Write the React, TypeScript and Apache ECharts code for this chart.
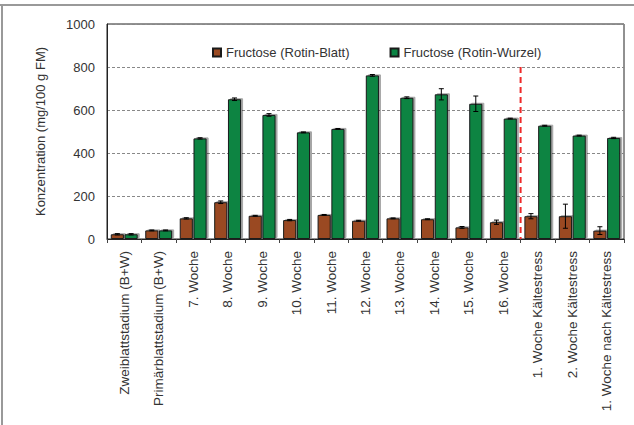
import React, { useEffect, useRef } from "react";
import * as echarts from "echarts";

const categories = [
  "Zweiblattstadium (B+W)",
  "Primärblattstadium (B+W)",
  "7. Woche",
  "8. Woche",
  "9. Woche",
  "10. Woche",
  "11. Woche",
  "12. Woche",
  "13. Woche",
  "14. Woche",
  "15. Woche",
  "16. Woche",
  "1. Woche Kältestress",
  "2. Woche Kältestress",
  "1. Woche nach Kältestress",
];
const blattValues = [22, 40, 96, 171, 108, 88, 112, 85, 96, 92, 54, 78, 106, 106, 39];
const blattErrors = [3, 2, 3, 6, 2, 3, 2, 2, 2, 2, 4, 10, 12, 56, 18];
const wurzelValues = [22, 40, 468, 650, 577, 496, 512, 761, 657, 673, 629, 560, 527, 481, 470];
const wurzelErrors = [3, 2, 3, 6, 6, 2, 2, 4, 4, 26, 36, 2, 2, 2, 3];
const yTicks = { min: 0, max: 1000, interval: 200 };
const seriesNames = ["Fructose (Rotin-Blatt)", "Fructose (Rotin-Wurzel)"];
const separatorAfterIndex = 11;
const separatorTop = 800;

const CAT_GAP = 0.22;
const BAR_GAP = 0.05;

function makeErrorSeries(values: number[], errors: number[], side: number) {
  return {
    type: "custom",
    z: 10,
    silent: true,
    data: values.map((v, i) => [i, v, errors[i]]),
    renderItem: (params: any, api: any) => {
      const idx = api.value(0);
      const v = api.value(1);
      const e = api.value(2);
      const band = api.size([1, 0])[0];
      const bw = (band * (1 - CAT_GAP)) / (2 + BAR_GAP);
      const off = side * (bw / 2 + (bw * BAR_GAP) / 2);
      const hi = api.coord([idx, v + e]);
      const lo = api.coord([idx, v - e]);
      const x = hi[0] + off;
      const cap = 2.5;
      const st = { stroke: "#000", lineWidth: 1 };
      return {
        type: "group",
        children: [
          { type: "line", shape: { x1: x, y1: hi[1], x2: x, y2: lo[1] }, style: st },
          { type: "line", shape: { x1: x - cap, y1: hi[1], x2: x + cap, y2: hi[1] }, style: st },
          { type: "line", shape: { x1: x - cap, y1: lo[1], x2: x + cap, y2: lo[1] }, style: st },
        ],
      };
    },
  };
}

export default function App() {
  const ref = useRef<HTMLDivElement>(null);
  useEffect(() => {
    if (!ref.current) return;
    const chart = echarts.init(ref.current, undefined, { renderer: "svg" });
    const font = "'Liberation Sans', Arial, sans-serif";
    const barStyle = (color: string) => ({
      color,
      borderColor: "#1a1a1a",
      borderWidth: 1,
      shadowColor: "rgba(0,0,0,0.35)",
      shadowOffsetX: 2,
      shadowOffsetY: -1,
      shadowBlur: 1,
    });
    chart.setOption({
      animation: false,
      textStyle: { fontFamily: font },
      graphic: [
        { type: "line", shape: { x1: 0, y1: 5, x2: 634, y2: 5 }, style: { stroke: "#999", lineWidth: 2 } },
        { type: "line", shape: { x1: 2, y1: 5, x2: 2, y2: 425 }, style: { stroke: "#999", lineWidth: 2 } },
      ],
      legend: {
        left: 207,
        top: 41,
        itemWidth: 8,
        itemHeight: 8,
        itemGap: 40,
        icon: "rect",
        textStyle: { fontSize: 13, color: "#333", fontFamily: font },
        data: seriesNames,
      },
      grid: { left: 107, right: 10, top: 24, bottom: 186, show: true, borderColor: "#222", borderWidth: 1 },
      xAxis: {
        type: "category",
        data: categories,
        axisLine: { lineStyle: { color: "#222", width: 1 } },
        axisTick: { show: true, length: 4, lineStyle: { color: "#444" } },
        axisLabel: {
          rotate: 90,
          fontSize: 13.5,
          color: "#333",
          margin: 12,
          interval: 0,
          width: 300,
          overflow: "none",
          hideOverlap: false,
          fontFamily: font,
        },
      },
      yAxis: {
        type: "value",
        min: yTicks.min,
        max: yTicks.max,
        interval: yTicks.interval,
        name: "Konzentration (mg/100 g FM)",
        nameLocation: "middle",
        nameGap: 60,
        nameTextStyle: { fontSize: 13, color: "#333", fontFamily: font },
        axisLine: { show: true, lineStyle: { color: "#222", width: 1 } },
        axisTick: { show: false },
        axisLabel: {
          fontSize: 13,
          color: "#333",
          margin: 12,
          fontFamily: font,
          formatter: (v: number) => String(v),
        },
        splitLine: { lineStyle: { color: "#888", type: [3, 2], width: 1 } },
      },
      series: [
        {
          name: seriesNames[0],
          type: "bar",
          data: blattValues,
          barCategoryGap: CAT_GAP * 100 + "%",
          barGap: BAR_GAP * 100 + "%",
          itemStyle: barStyle("#9a4a22"),
        },
        {
          name: seriesNames[1],
          type: "bar",
          data: wurzelValues,
          barCategoryGap: CAT_GAP * 100 + "%",
          barGap: BAR_GAP * 100 + "%",
          itemStyle: barStyle("#0b8443"),
        },
        makeErrorSeries(blattValues, blattErrors, -1),
        makeErrorSeries(wurzelValues, wurzelErrors, 1),
        {
          type: "custom",
          z: 12,
          silent: true,
          data: [[separatorAfterIndex, separatorTop]],
          renderItem: (params: any, api: any) => {
            const i = api.value(0);
            const a = api.coord([i, 0]);
            const b = api.coord([i + 1, 0]);
            const t = api.coord([i, api.value(1)]);
            const x = (a[0] + b[0]) / 2;
            return {
              type: "line",
              shape: { x1: x, y1: t[1], x2: x, y2: a[1] },
              style: { stroke: "#ee2a2a", lineWidth: 2, lineDash: [6, 4] },
            };
          },
        },
      ],
    });
    return () => chart.dispose();
  }, []);
  return (
    <div
      ref={ref}
      style={{ position: "fixed", left: 0, top: 0, width: 634, height: 425, background: "#fff" }}
    />
  );
}
